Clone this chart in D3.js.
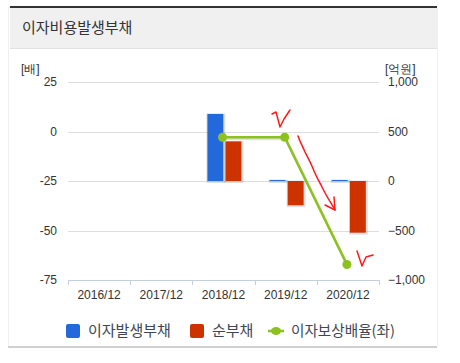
<!DOCTYPE html>
<html>
<head>
<meta charset="utf-8">
<script src="https://cdn.jsdelivr.net/npm/d3@7"></script>
<style>
  body { margin: 0; background: #fff; }
  text { font-family: "Noto Sans CJK KR", "Noto Sans", sans-serif; }
  .num { font-family: "Liberation Sans", "DejaVu Sans", sans-serif; font-size: 12px; fill: #333; }
</style>
</head>
<body>
<svg id="chart"></svg>
<script>
var svgWidth = 460
var svgHeight = 363

// data
var categories = ["2016/12", "2017/12", "2018/12", "2019/12", "2020/12"];
var interestDebt = [null, null, 677, 10, 10];      // 이자발생부채 (억원, right axis)
var netDebt = [null, null, 400, -245, -522];        // 순부채 (억원, right axis)
var coverage = [null, null, -2.9, -2.9, -67.2];     // 이자보상배율 (배, left axis)
var leftTicks = [25, 0, -25, -50, -75];
var rightTicks = [1000, 500, 0, -500, -1000];

var blue = "#2469dc";
var red = "#cc3300";
var green = "#8cc21e";

var plot = { left: 68, right: 379, top: 82, bottom: 280 };

var svg = d3.select("#chart")
    .attr("width", svgWidth)
    .attr("height", svgHeight);

// panel frame
svg.append("rect")
    .attr("x", 8.5).attr("y", 7.5)
    .attr("width", 429).attr("height", 339)
    .attr("fill", "none")
    .attr("stroke", "#f0f0f0");

// header
svg.append("rect")
    .attr("x", 10).attr("y", 8)
    .attr("width", 427).attr("height", 40)
    .attr("fill", "#f0f0f0");
svg.append("line")
    .attr("x1", 10).attr("x2", 437)
    .attr("y1", 7).attr("y2", 7)
    .attr("stroke", "#333")
    .attr("stroke-width", 2);
svg.append("line")
    .attr("x1", 10).attr("x2", 437)
    .attr("y1", 48.5).attr("y2", 48.5)
    .attr("stroke", "#e2e2e2");
svg.append("text")
    .attr("x", 22).attr("y", 33)
    .attr("font-size", 15)
    .attr("fill", "#333")
    .text("이자비용발생부채");

var x = d3.scaleBand()
    .domain(categories)
    .range([plot.left, plot.right])
    .padding(0);

var xSub = d3.scaleBand()
    .domain(["debt", "net"])
    .range([15, 49])
    .paddingInner(0.12);

var yLeft = d3.scaleLinear()
    .domain([-75, 25])
    .range([plot.bottom, plot.top]);

var yRight = d3.scaleLinear()
    .domain([-1000, 1000])
    .range([plot.bottom, plot.top]);

// gridlines
svg.append("g")
    .selectAll("line")
    .data(leftTicks.slice(0, 4))
    .enter()
    .append("line")
    .attr("x1", plot.left).attr("x2", plot.right)
    .attr("y1", d => Math.round(yLeft(d)) + 0.5)
    .attr("y2", d => Math.round(yLeft(d)) + 0.5)
    .attr("stroke", "#dedede");

// x axis
var bottomAxis = d3.axisBottom(x).tickSize(0).tickPadding(10);
var xAxis = svg.append("g")
    .attr("transform", `translate(0, ${plot.bottom})`)
    .call(bottomAxis);
xAxis.select(".domain").attr("stroke", "#c5d0de");
xAxis.selectAll("text").attr("class", "num");
// separators between categories
xAxis.selectAll(".sep")
    .data(categories.concat(["end"]))
    .enter()
    .append("line")
    .attr("x1", (d, i) => Math.round(plot.left + i * x.step()) + 0.5)
    .attr("x2", (d, i) => Math.round(plot.left + i * x.step()) + 0.5)
    .attr("y1", 0).attr("y2", 5)
    .attr("stroke", "#c5d0de");

// left axis labels
svg.append("g")
    .selectAll("text")
    .data(leftTicks)
    .enter()
    .append("text")
    .attr("class", "num")
    .attr("x", 57)
    .attr("y", d => yLeft(d))
    .attr("dy", "0.35em")
    .attr("text-anchor", "end")
    .text(d => d);

// right axis labels
svg.append("g")
    .selectAll("text")
    .data(rightTicks)
    .enter()
    .append("text")
    .attr("class", "num")
    .attr("x", 388)
    .attr("y", d => yRight(d))
    .attr("dy", "0.35em")
    .text(d => d3.format(",")(d));

svg.append("text").attr("class", "num")
    .attr("x", 21).attr("y", 73).text("[배]");
svg.append("text").attr("class", "num")
    .attr("x", 385).attr("y", 73).text("[억원]");

// bars
var barData = [];
categories.forEach(function(c, i) {
    if (interestDebt[i] !== null) barData.push({ cat: c, key: "debt", value: interestDebt[i], color: blue });
    if (netDebt[i] !== null) barData.push({ cat: c, key: "net", value: netDebt[i], color: red });
});

var barsGroup = svg.append("g");
barsGroup.selectAll(".shadow")
    .data(barData)
    .enter()
    .append("rect")
    .attr("x", d => x(d.cat) + xSub(d.key) - 1)
    .attr("y", d => Math.min(yRight(d.value), yRight(0)) - 0.5)
    .attr("width", xSub.bandwidth() + 3)
    .attr("height", d => Math.abs(yRight(d.value) - yRight(0)) + 2.5)
    .attr("fill", "#000")
    .attr("opacity", 0.13);

barsGroup.selectAll(".bar")
    .data(barData)
    .enter()
    .append("rect")
    .attr("x", d => x(d.cat) + xSub(d.key))
    .attr("y", d => Math.min(yRight(d.value), yRight(0)))
    .attr("width", xSub.bandwidth())
    .attr("height", d => Math.abs(yRight(d.value) - yRight(0)))
    .attr("fill", d => d.color);

// line
var linePts = [];
categories.forEach(function(c, i) {
    if (coverage[i] !== null) linePts.push({ cat: c, value: coverage[i] });
});
var line = d3.line()
    .x(d => x(d.cat) + x.bandwidth() / 2 - 1)
    .y(d => yLeft(d.value));

svg.append("path")
    .datum(linePts)
    .attr("d", line)
    .attr("transform", "translate(1,1.5)")
    .attr("fill", "none")
    .attr("stroke", "#000")
    .attr("stroke-opacity", 0.12)
    .attr("stroke-width", 3);
svg.append("path")
    .datum(linePts)
    .attr("d", line)
    .attr("fill", "none")
    .attr("stroke", green)
    .attr("stroke-width", 2.5);
svg.append("g")
    .selectAll("circle")
    .data(linePts)
    .enter()
    .append("circle")
    .attr("cx", d => x(d.cat) + x.bandwidth() / 2 - 1)
    .attr("cy", d => yLeft(d.value))
    .attr("r", 4.5)
    .attr("fill", green);

// hand-drawn red marks on the picture
var marks = [
    "M272,114 L276,112 L280,127 L284,119 L290,110",
    "M298,136 C300,142 303,147 305,152 C308,158 312,165 314,171 C317,178 320,183 323,189 C327,197 331,203 335,210",
    "M325,205 L335,210 L334,197",
    "M357,251 L362,266 L366,257 L373,255"
];
svg.append("g")
    .selectAll("path")
    .data(marks)
    .enter()
    .append("path")
    .attr("d", d => d)
    .attr("fill", "none")
    .attr("stroke", "#ff1a1a")
    .attr("stroke-width", 1.5)
    .attr("stroke-linecap", "round")
    .attr("stroke-linejoin", "round");

// legend
var legendItems = [
    { label: "이자발생부채", color: blue, type: "rect" },
    { label: "순부채", color: red, type: "rect" },
    { label: "이자보상배율(좌)", color: green, type: "line" }
];
var legendX = [66, 190, 268];
var legend = svg.append("g");
legendItems.forEach(function(item, i) {
    var g = legend.append("g").attr("transform", `translate(${legendX[i]}, 331)`);
    if (item.type === "rect") {
        g.append("rect")
            .attr("x", 0).attr("y", -7)
            .attr("width", 14).attr("height", 14)
            .attr("rx", 2)
            .attr("fill", item.color);
        g.append("text")
            .attr("x", 22).attr("y", 0)
            .attr("dy", "0.35em")
            .attr("font-size", 15)
            .attr("fill", "#3d4654")
            .text(item.label);
    } else {
        g.append("line")
            .attr("x1", 0).attr("x2", 16)
            .attr("y1", 0).attr("y2", 0)
            .attr("stroke", item.color)
            .attr("stroke-width", 2.5);
        g.append("ellipse")
            .attr("cx", 8).attr("cy", 0)
            .attr("rx", 5).attr("ry", 4)
            .attr("fill", item.color);
        g.append("text")
            .attr("x", 23).attr("y", 0)
            .attr("dy", "0.35em")
            .attr("font-size", 14.6)
            .attr("fill", "#3d4654")
            .text(item.label);
    }
});

svg.append("line")
    .attr("x1", 8).attr("x2", 437)
    .attr("y1", 347).attr("y2", 347)
    .attr("stroke", "#d0d0d0")
    .attr("stroke-width", 2);
</script>
</body>
</html>
